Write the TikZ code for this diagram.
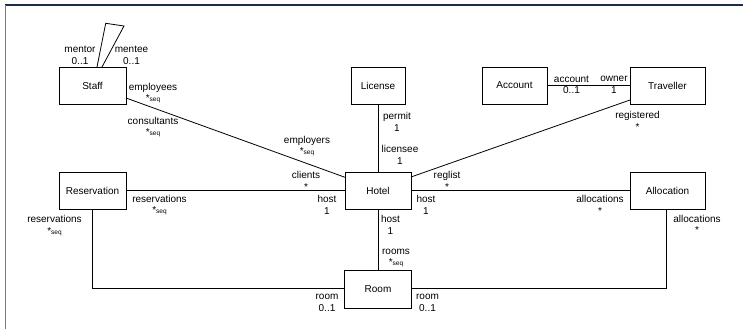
\documentclass[tikz,border=0pt]{standalone}
\usepackage{fontspec}
\setmainfont{Liberation Sans}
\usetikzlibrary{calc}
\definecolor{frametop}{HTML}{1C2C4C}
\definecolor{frameleft}{HTML}{6A7F9E}
\newcommand{\sq}{*{\fontsize{6.5}{7}\selectfont seq}}
\tikzset{
  cls/.style={draw, line width=0.8pt, rectangle, inner sep=0pt, outer sep=0pt, minimum width=#1, minimum height=37pt, font=\fontsize{10}{12}\selectfont},
  lbl/.style={align=center, inner sep=0pt, font=\fontsize{10}{11.5}\selectfont},
  assoc/.style={line width=0.8pt}
}
\begin{document}
\begin{tikzpicture}[x=1pt,y=-1pt]
\useasboundingbox (0,0) rectangle (743,329);
\fill[white] (0,0) rectangle (743,329);
\draw[frametop, line width=1.2pt] (4.6,5) -- (743,5);
\draw[frameleft, line width=1.8pt] (5.5,5) -- (5.5,329);

% classes
\node[cls=67pt] (Staff) at (92.5,85.5) {Staff};
\node[cls=54pt] (License) at (378,85.5) {License};
\node[cls=65pt] (Account) at (514.5,85.5) {Account};
\node[cls=75pt] (Traveller) at (667.5,85.5) {Traveller};
\node[cls=67pt] (Reservation) at (92.5,190.5) {Reservation};
\node[cls=66pt] (Hotel) at (378,190.5) {Hotel};
\node[cls=75pt] (Allocation) at (667.5,190.5) {Allocation};
\node[cls=67pt, minimum height=38pt] (Room) at (378,289) {Room};

% self association
\coordinate (sa) at ($(Staff.north)+(13.2,-43.7)$);
\coordinate (sb) at ($(Staff.north)+(31.5,-41)$);
\draw[assoc] ($(Staff.north)+(4.5,0)$) -- (sa) -- (sb) -- ($(Staff.north)+(9.5,0)$);

% associations
\draw[assoc] ($(Staff.south east)+(0,-6)$) -- ($(Hotel.north west)+(0,5.3)$);
\draw[assoc] (License.south) -- (Hotel.north);
\draw[assoc] (Account.east) -- (Traveller.west);
\draw[assoc] ($(Traveller.south west)+(0,-4)$) -- ($(Hotel.north east)+(0,5)$);
\draw[assoc] (Reservation.east) -- (Hotel.west);
\draw[assoc] (Hotel.east) -- (Allocation.west);
\draw[assoc] (Hotel.south) -- (Room.north);
\draw[assoc] (Reservation.south) |- ($(Room.west)+(0,-1)$);
\draw[assoc] ($(Allocation.south)+(-1.5,0)$) |- ($(Room.east)+(0,-1)$);

% role labels
\node[lbl] (l1) at (80,55.5) {mentor\\0..1};
\node[lbl] (l2) at (131.5,55.5) {mentee\\0..1};
\node[lbl] (l3) at (153,93) {employees\\\sq};
\node[lbl] (l4) at (153,127) {consultants\\\sq};
\node[lbl] (l5) at (307,146) {employers\\\sq};
\node[lbl] (l6) at (397,122) {permit\\1};
\node[lbl] (l7) at (400,155) {licensee\\1};
\node[lbl] (l8) at (306,181) {clients\\*};
\node[lbl] (l9) at (447,181) {reglist\\*};
\node[lbl] (l10) at (571.5,85) {account\\0..1};
\node[lbl] (l11) at (614,85) {owner\\1};
\node[lbl] (l12) at (637.5,121) {registered\\*};
\node[lbl] (l13) at (159.5,205) {reservations\\\sq};
\node[lbl] (l14) at (327,205) {host\\1};
\node[lbl] (l15) at (54.5,225.5) {reservations\\\sq};
\node[lbl] (l16) at (327,303) {room\\0..1};
\node[lbl] (l17) at (426,205) {host\\1};
\node[lbl] (l18) at (600,205) {allocations\\*};
\node[lbl] (l19) at (390.5,225) {host\\1};
\node[lbl] (l20) at (396,258) {rooms\\\sq};
\node[lbl] (l21) at (697,224.5) {allocations\\*};
\node[lbl] (l22) at (427.5,303) {room\\0..1};
\end{tikzpicture}
\end{document}
